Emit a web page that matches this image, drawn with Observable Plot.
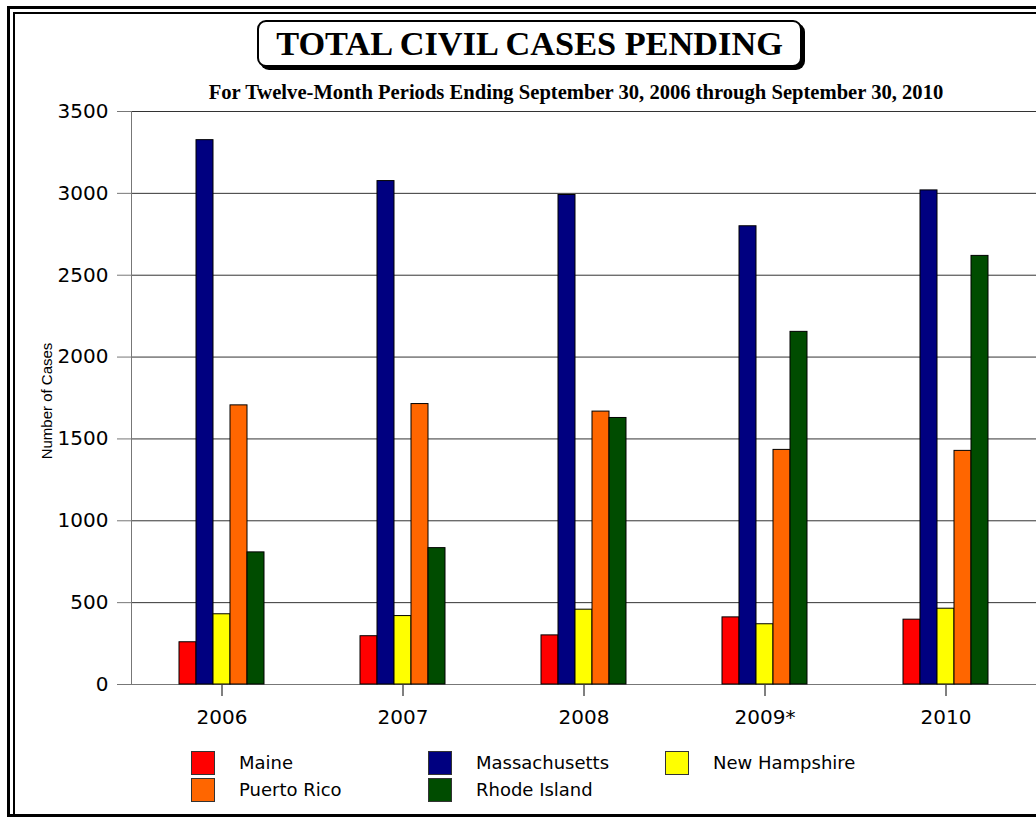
<!DOCTYPE html>
<html>
<head>
<meta charset="utf-8">
<script src="https://cdn.jsdelivr.net/npm/d3@7"></script>
<script src="https://cdn.jsdelivr.net/npm/@observablehq/plot@0.6"></script>
<style>
  html, body { margin: 0; padding: 0; background: #fff; }
  body { width: 1036px; height: 817px; overflow: hidden; position: relative; }
  #outer { position: absolute; left: 7px; top: 6px; width: 1100px; height: 805px; border: 3px solid #000; }
  #inner { position: absolute; left: 13px; top: 12px; width: 1100px; height: 820px; border: 2px solid #000; border-bottom: none; }
  #titlebox { position: absolute; left: 257px; top: 20px; width: 541px; height: 43px; border: 2px solid #000; border-radius: 9px;
    box-shadow: 3px 3px 0 #000; background: #fff; display: flex; align-items: center; justify-content: center;
    font-family: "Liberation Serif", serif; font-weight: bold; font-size: 34.3px; color: #000; z-index: 3; }
  #subtitle { position: absolute; left: 0; width: 1152px; top: 81px; text-align: center;
    font-family: "Liberation Serif", serif; font-weight: bold; font-size: 20.6px; color: #000; z-index: 3; }
  #chart { position: absolute; left: 0; top: 100px; z-index: 2; }
  #ylabel { position: absolute; left: -53px; top: 392px; width: 200px; line-height: 18px; text-align: center;
    transform: rotate(-90deg); font-family: "Liberation Sans", sans-serif; font-size: 15px; color: #000; z-index: 3; }
  #legend { position: absolute; left: 191px; top: 749px; display: grid; grid-template-columns: repeat(3, 237px);
    grid-auto-rows: 27px; z-index: 3; font-family: "DejaVu Sans", sans-serif; font-size: 18px; color: #000; }
  .item { display: flex; align-items: center; }
  .sw { width: 22px; height: 22px; border: 1px solid #333; box-sizing: content-box; }
  .lab { margin-left: 24px; }
</style>
</head>
<body>
<div id="outer"></div>
<div id="inner"></div>
<div id="titlebox">TOTAL CIVIL CASES PENDING</div>
<div id="subtitle">For Twelve-Month Periods Ending September 30, 2006 through September 30, 2010</div>
<div id="ylabel">Number of Cases</div>
<div id="chart"></div>
<div id="legend"></div>
<script>
const years = ["2006", "2007", "2008", "2009*", "2010"];
const states = ["Maine", "Massachusetts", "New Hampshire", "Puerto Rico", "Rhode Island"];
const colors = ["#FF0000", "#000080", "#FFFF00", "#FF6600", "#004C00"];
const maine = [258, 295, 300, 410, 396];
const massachusetts = [3325, 3075, 2990, 2799, 3018];
const newHampshire = [429, 418, 457, 368, 463];
const puertoRico = [1705, 1713, 1667, 1433, 1427];
const rhodeIsland = [807, 833, 1628, 2154, 2618];
const yTicks = [0, 500, 1000, 1500, 2000, 2500, 3000, 3500];

const series = [maine, massachusetts, newHampshire, puertoRico, rhodeIsland];
const data = years.flatMap((yr, i) => states.map((s, j) => ({year: yr, state: s, value: series[j][i]})));

const chart = Plot.plot({
  width: 1036,
  height: 640,
  marginTop: 11,
  marginBottom: 56,
  marginLeft: 131,
  marginRight: 0,
  style: {fontFamily: "DejaVu Sans, sans-serif", background: "transparent", overflow: "visible", color: "#000"},
  fx: {domain: years, padding: 0, label: null},
  x: {domain: states, paddingInner: 0, paddingOuter: 2.53, axis: null},
  y: {domain: [0, 3500], label: null},
  color: {domain: states, range: colors},
  marks: [
    Plot.gridY(yTicks, {stroke: "#333", strokeOpacity: 1}),
    Plot.axisY(yTicks, {tickSize: 14, tickPadding: 9, fontSize: 20, stroke: "#777", fill: "#000", label: null, tickFormat: d => String(d)}),
    Plot.axisFx({anchor: "bottom", tickSize: 12, tickPadding: 13, fontSize: 20, stroke: "#000", fill: "#000", label: null}),
    Plot.frame({anchor: "left", facetAnchor: "left", stroke: "#777"}),
    Plot.ruleY([0], {stroke: "#777"}),
    Plot.barY(data, {fx: "year", x: "state", y: "value", fill: "state", stroke: "#000", strokeWidth: 1})
  ]
});
document.getElementById("chart").appendChild(chart);

const legend = document.getElementById("legend");
states.forEach((s, i) => {
  const item = document.createElement("div");
  item.className = "item";
  const sw = document.createElement("div");
  sw.className = "sw";
  sw.style.background = colors[i];
  const lab = document.createElement("span");
  lab.className = "lab";
  lab.textContent = s;
  item.appendChild(sw);
  item.appendChild(lab);
  legend.appendChild(item);
});
</script>
</body>
</html>
